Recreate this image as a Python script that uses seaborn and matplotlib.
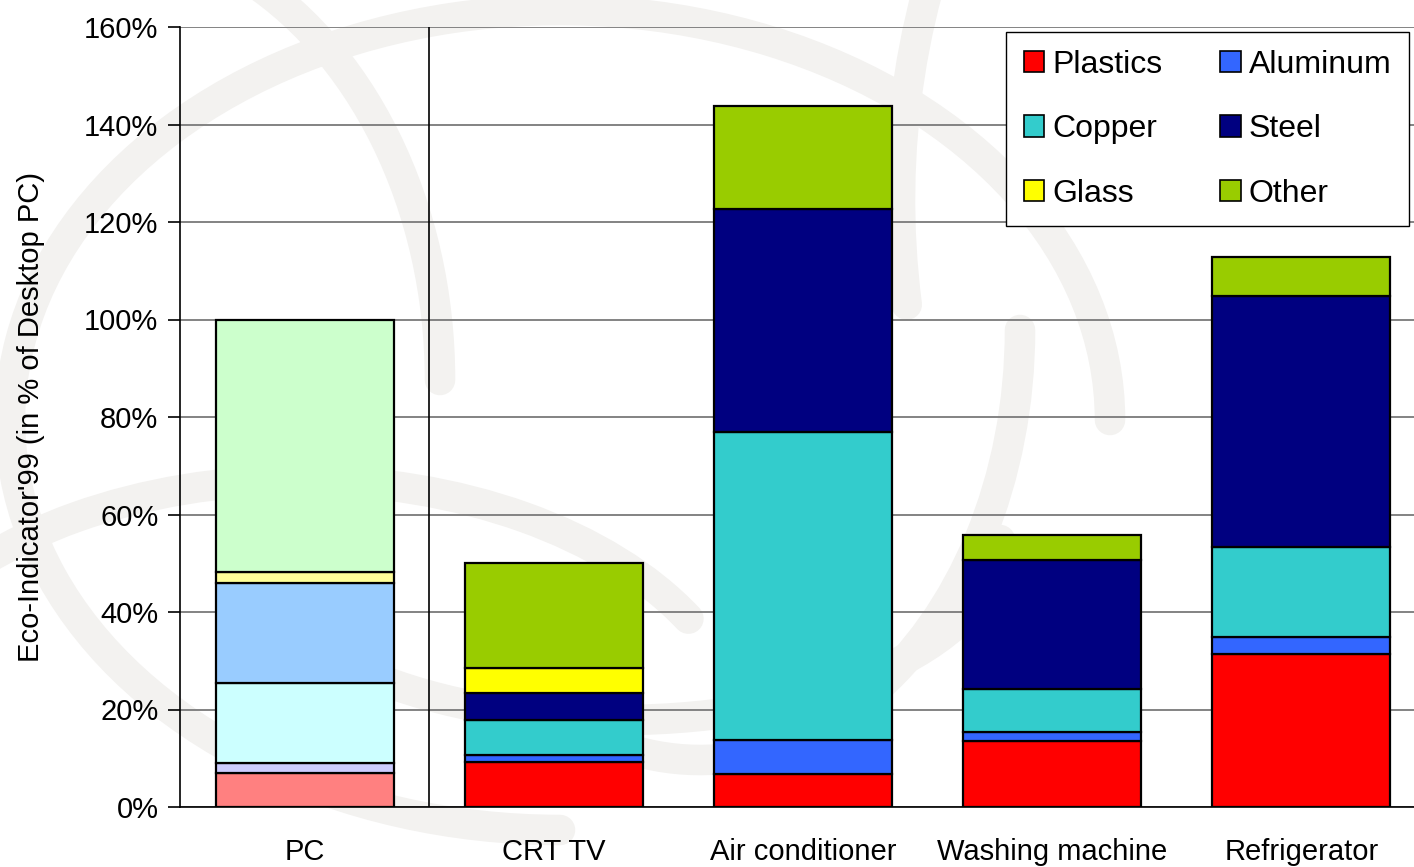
import numpy as np
import pandas as pd
import seaborn as sns
import matplotlib
matplotlib.use("Agg")
import matplotlib.pyplot as plt
from matplotlib.patches import Patch, Arc

categories = ["PC", "CRT TV", "Air conditioner", "Washing machine", "Refrigerator"]
materials = ["Plastics", "Aluminum", "Copper", "Steel", "Glass", "Other"]
plastics = [7.0, 9.2, 6.8, 13.6, 31.4]
aluminum = [2.0, 1.5, 6.9, 1.8, 3.5]
copper = [16.4, 7.1, 63.2, 8.8, 18.5]
steel = [20.6, 5.6, 45.8, 26.5, 51.4]
glass = [2.2, 5.1, 0.0, 0.0, 0.0]
other = [51.8, 21.5, 21.1, 5.0, 8.0]
yticks = [0, 20, 40, 60, 80, 100, 120, 140, 160]

colors = ["#FF0000", "#3366FF", "#33CCCC", "#000080", "#FFFF00", "#99CC00"]
pc_colors = ["#FF8080", "#CCCCFF", "#CCFFFF", "#99CCFF", "#FFFF99", "#CCFFCC"]

series = [plastics, aluminum, copper, steel, glass, other]

sns.set_style("white")
plt.rcParams["font.family"] = ["Liberation Sans", "DejaVu Sans"]
plt.rcParams["text.color"] = "black"
plt.rcParams["xtick.color"] = "black"
plt.rcParams["ytick.color"] = "black"
plt.rcParams["axes.labelcolor"] = "black"

fig = plt.figure(figsize=(14.14, 8.67), dpi=100)
# faint watermark (globe-like arcs)
wm = "#F3F2F0"
bg = fig.add_axes([0, 0, 1, 1], zorder=-1)
bg.set_xlim(0, 1414)
bg.set_ylim(867, 0)
bg.axis("off")
for (cx, cy, w, h, t1, t2) in [
    (560, 420, 1100, 820, 90, 360),
    (700, 330, 640, 860, 0, 110),
    (620, 540, 760, 360, 0, 180),
    (300, 760, 900, 560, 200, 340),
    (90, 380, 700, 900, 290, 360),
    (1500, 200, 1200, 1400, 170, 250),
]:
    bg.add_patch(Arc((cx, cy), w, h, theta1=t1, theta2=t2, color=wm, lw=22,
                     capstyle="round"))

ax = fig.add_axes([180 / 1414, 60 / 867, 1246 / 1414, 780 / 867])
ax.patch.set_alpha(0)

df = pd.DataFrame({"category": categories})
bottom = np.zeros(len(categories))
for mat, vals, col, pcol in zip(materials, series, colors, pc_colors):
    df[mat] = vals
    n_before = len(ax.patches)
    sns.barplot(data=df, x="category", y=mat, bottom=bottom, color=col,
                width=0.715, edgecolor="black", linewidth=1.6, errorbar=None,
                saturation=1, ax=ax, zorder=3)
    new = ax.patches[n_before:]
    for p in new:
        if p.get_height() == 0:
            p.set_visible(False)
    new[0].set_facecolor(pcol)
    bottom = bottom + np.array(vals)

ax.set_xlim(-0.5, 4.5)
ax.set_ylim(0, 160)
ax.set_yticks(yticks)
ax.set_yticklabels([f"{v}%" for v in yticks], fontsize=21)
ax.yaxis.grid(True, color="#7A7A7A", lw=1.3, zorder=0)
ax.set_axisbelow(True)
ax.axvline(0.5, color="black", lw=1.2, zorder=2)

ax.set_xticks(range(len(categories)))
ax.set_xticklabels(categories, fontsize=21)
ax.set_xticks(np.arange(-0.5, 5, 1), minor=True)
ax.tick_params(axis="x", which="major", length=0, pad=22)
ax.tick_params(axis="x", which="minor", length=9, width=1.2, color="black", direction="out")
ax.tick_params(axis="y", length=9, width=1.2, color="black", direction="out", left=True, pad=6.5)
ax.set_xlabel("")
ax.set_ylabel("Eco-Indicator'99 (in % of Desktop PC)", fontsize=21, labelpad=28)

for s in ["top", "right"]:
    ax.spines[s].set_visible(False)
ax.spines["left"].set_color("black")
ax.spines["bottom"].set_color("black")
ax.spines["left"].set_linewidth(1.2)
ax.spines["bottom"].set_linewidth(1.2)

# legend filled row-wise like the reference: reorder for column-major fill
order = [0, 2, 4, 1, 3, 5]
handles = [Patch(facecolor=colors[i], edgecolor="black", lw=1.2) for i in order]
labels = [materials[i] for i in order]
leg = ax.legend(handles, labels, ncol=2, loc="upper left",
                bbox_to_anchor=(0.663, 0.9936), fontsize=23, frameon=True,
                fancybox=False, edgecolor="black", framealpha=1,
                handlelength=0.65, handleheight=0.65, handletextpad=0.25,
                labelspacing=1.08, columnspacing=1.8, borderpad=0.55,
                borderaxespad=0)
leg.get_frame().set_linewidth(1.0)
leg.set_zorder(5)

fig.savefig("out.png", dpi=100)
